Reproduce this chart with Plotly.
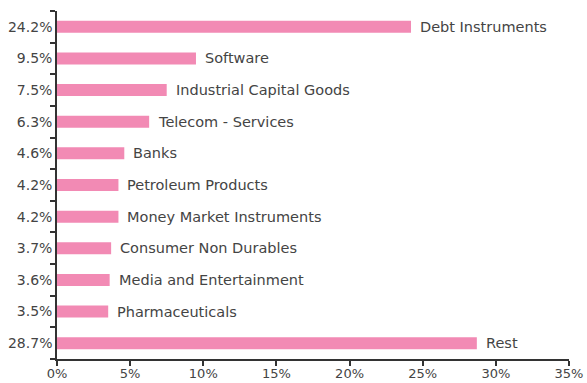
import plotly.graph_objects as go

sectors = ["Debt Instruments", "Software", "Industrial Capital Goods", "Telecom - Services",
           "Banks", "Petroleum Products", "Money Market Instruments", "Consumer Non Durables",
           "Media and Entertainment", "Pharmaceuticals", "Rest"]
weights = [24.2, 9.5, 7.5, 6.3, 4.6, 4.2, 4.2, 3.7, 3.6, 3.5, 28.7]
weight_labels = ["24.2%", "9.5%", "7.5%", "6.3%", "4.6%", "4.2%", "4.2%", "3.7%", "3.6%", "3.5%", "28.7%"]
x_ticks = [0, 5, 10, 15, 20, 25, 30, 35]
x_tick_labels = ["0%", "5%", "10%", "15%", "20%", "25%", "30%", "35%"]

PINK = "#F28AB4"
TEXT = "#444444"
FONT = "'DejaVu Sans', sans-serif"

fig = go.Figure(go.Bar(
    x=weights, y=sectors, orientation="h",
    marker=dict(color=PINK, line=dict(width=0)),
    width=0.38, hoverinfo="skip",
))

for name, w in zip(sectors, weights):
    fig.add_annotation(x=w, y=name, text=name, showarrow=False,
                       xanchor="left", yanchor="middle", xshift=7,
                       font=dict(family=FONT, size=14.5, color=TEXT))

fig.update_layout(
    width=587, height=383,
    margin=dict(l=57, r=18, t=11, b=24, autoexpand=False),
    paper_bgcolor="white", plot_bgcolor="white",
    showlegend=False,
    font=dict(family=FONT, size=13, color=TEXT),
)
fig.update_xaxes(
    range=[0, 35], tickmode="array", tickvals=x_ticks, ticktext=x_tick_labels,
    showgrid=False, zeroline=False, showline=True, linecolor="#333333", linewidth=1.5,
    ticks="outside", ticklen=5, tickcolor="#333333", tickwidth=1.5,
    ticklabelstandoff=-3,
    tickfont=dict(family=FONT, size=13, color=TEXT), automargin=False,
)
fig.update_yaxes(
    type="category", autorange="reversed",
    tickmode="array", tickvals=sectors, ticktext=weight_labels,
    tickson="boundaries",
    showgrid=False, zeroline=False, showline=True, linecolor="#333333", linewidth=1.5,
    ticks="outside", ticklen=5, tickcolor="#333333", tickwidth=1.5,
    tickfont=dict(family=FONT, size=14, color=TEXT), automargin=False,
)

fig.write_html("out.html")
